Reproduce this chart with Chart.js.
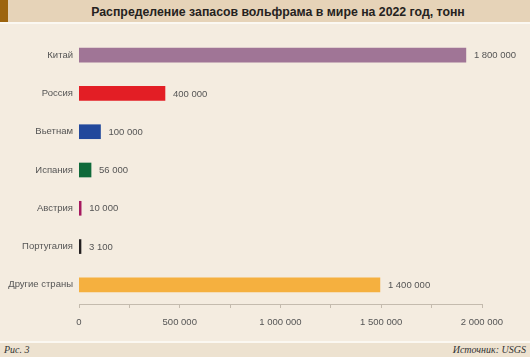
<!DOCTYPE html>
<html>
<head>
<meta charset="utf-8">
<script src="https://cdn.jsdelivr.net/npm/chart.js@4/dist/chart.umd.min.js"></script>
<style>
  html, body { margin: 0; padding: 0; }
  body { width: 530px; height: 357px; background: #f4ece0; position: relative; overflow: hidden; font-family: "Liberation Sans", Arial, sans-serif; }
  #titleband { position: absolute; left: 0; top: 0; width: 530px; height: 22px; background: #e6d3b8; }
  #stripe { position: absolute; left: 0; top: 0; width: 8px; height: 22px; background: #9d640d; }
  #titleline { position: absolute; left: 0; top: 22px; width: 530px; height: 2px; background: #fbf8f2; }
  #title { position: absolute; left: 26px; right: 0; top: 0; height: 22px; line-height: 25px; text-align: center; font-weight: bold; font-size: 12.3px; color: #252220; }
  #footline { position: absolute; left: 0; top: 341px; width: 530px; height: 2px; background: #fbf8f2; }
  #footband { position: absolute; left: 0; top: 343px; width: 530px; height: 14px; background: #ede2d0; }
  .foot { position: absolute; top: 343px; height: 14px; line-height: 14px; font-family: "Liberation Serif", "DejaVu Serif", serif; font-style: italic; font-size: 10px; color: #333; }
  #figno { left: 4px; }
  #source { right: 4px; }
  #wrap { position: absolute; left: 0; top: 0; width: 530px; height: 357px; }
</style>
</head>
<body>
<div id="titleband"></div>
<div id="stripe"></div>
<div id="titleline"></div>
<div id="title">Распределение запасов вольфрама в мире на 2022 год, тонн</div>
<div id="wrap"><canvas id="c" width="530" height="357"></canvas></div>
<div id="footline"></div>
<div id="footband"></div>
<div class="foot" id="figno">Рис. 3</div>
<div class="foot" id="source">Источник: USGS</div>
<script>
const categories = ["Китай", "Россия", "Вьетнам", "Испания", "Австрия", "Португалия", "Другие страны"];
const reserves = [1800000, 400000, 100000, 56000, 10000, 3100, 1400000];
const barColors = ["#a07596", "#e31e25", "#22489c", "#0f6a3a", "#a6195f", "#231f20", "#f5b03f"];
const axisTicks = [0, 500000, 1000000, 1500000, 2000000];
const axisMax = 2000000;
const barScaleMax = 1875000; // bars in the original are drawn on a slightly different scale than the axis

function fmt(v) {
  return String(v).replace(/\B(?=(\d{3})+(?!\d))/g, " ");
}

const valueLabels = {
  id: "valueLabels",
  afterDatasetsDraw(chart) {
    const ctx = chart.ctx;
    const meta = chart.getDatasetMeta(0);
    ctx.save();
    ctx.font = "9.5px 'Liberation Sans', Arial, sans-serif";
    ctx.fillStyle = "#555";
    ctx.textAlign = "left";
    ctx.textBaseline = "middle";
    meta.data.forEach((el, i) => {
      ctx.fillText(fmt(reserves[i]), el.x + 8, el.y + 0.5);
    });
    ctx.restore();
  }
};

new Chart(document.getElementById("c"), {
  type: "bar",
  data: {
    labels: categories,
    datasets: [{
      data: reserves,
      backgroundColor: barColors,
      borderWidth: 0,
      barThickness: 14,
      minBarLength: 2,
      xAxisID: "xb",
      yAxisID: "y"
    }]
  },
  options: {
    indexAxis: "y",
    responsive: false,
    animation: false,
    devicePixelRatio: 1,
    layout: { padding: { top: 36, right: 48, left: 0, bottom: 0 } },
    plugins: { legend: { display: false }, tooltip: { enabled: false }, title: { display: false } },
    scales: {
      xb: {
        type: "linear",
        axis: "x",
        position: "bottom",
        display: false,
        min: 0,
        max: barScaleMax
      },
      x: {
        type: "linear",
        axis: "x",
        position: "bottom",
        min: 0,
        max: axisMax,
        afterFit: (s) => { s.height = 53; },
        afterBuildTicks: (s) => { 
          const t = [];
          for (let v = 0; v <= axisMax; v += 250000) t.push({ value: v });
          s.ticks = t;
        },
        border: { display: true, color: "#c4bbae", width: 1 },
        grid: { display: true, drawOnChartArea: false, drawTicks: true, tickLength: 4, color: "#c4bbae" },
        ticks: {
          autoSkip: false,
          maxRotation: 0,
          padding: 9,
          color: "#555",
          font: { family: "'Liberation Sans', Arial, sans-serif", size: 9.5 },
          callback: (v) => axisTicks.includes(v) ? fmt(v) : ""
        }
      },
      y: {
        type: "category",
        afterFit: (s) => { s.width = 79; },
        grid: { display: false, drawTicks: false, tickLength: 0 },
        border: { display: false },
        ticks: {
          padding: 6,
          color: "#555",
          font: { family: "'Liberation Sans', Arial, sans-serif", size: 9.5 }
        }
      }
    }
  },
  plugins: [valueLabels]
});
</script>
</body>
</html>
